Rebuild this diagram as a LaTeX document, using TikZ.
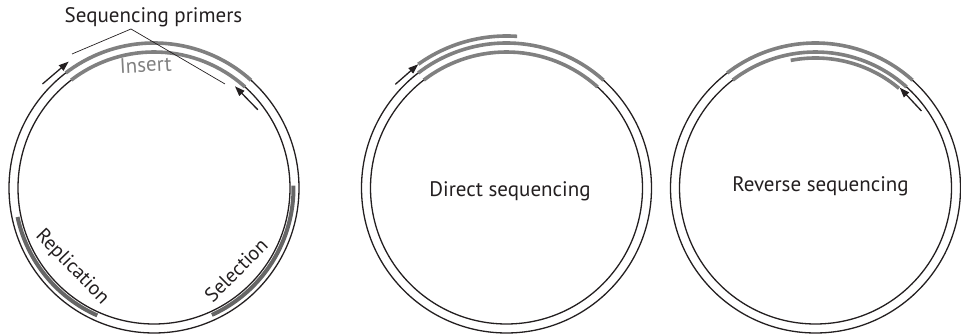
\documentclass[tikz,border=0pt]{standalone}
\usepackage{fontspec}
\setmainfont{PT Sans}
\usetikzlibrary{arrows.meta}
\definecolor{arcgray}{HTML}{808080}
\definecolor{bargray}{HTML}{666666}
\definecolor{inkblack}{HTML}{231F20}
\begin{document}
\begin{tikzpicture}[x=1pt,y=1pt,
  ring/.style={line width=1.3pt, inkblack},
  seqarc/.style={line width=3.6pt, arcgray},
  regbar/.style={line width=4pt, bargray},
  primer/.style={line width=1.3pt, inkblack, -{Triangle[length=10pt,width=7pt]}},
  leader/.style={line width=0.7pt, inkblack},
  lbl/.style={font=\fontsize{21}{24}\selectfont, inner sep=0pt, text=inkblack},
  rlbl/.style={font=\fontsize{20}{23}\selectfont, inner sep=0pt, text=inkblack},
]
\useasboundingbox (0,0) rectangle (961,336);
\coordinate (c1) at (154,148);
\coordinate (c2) at (506.5,148);
\coordinate (c3) at (815.5,148);
\foreach \c in {c1,c2,c3}{
  \draw[ring] (\c) circle[radius=145pt];
  \draw[ring] (\c) circle[radius=136pt];
  \begin{scope}[shift={(\c)}]
    \draw[seqarc] (48:145) arc[start angle=48,end angle=127.5,radius=145pt];
    \draw[seqarc] (48:136) arc[start angle=48,end angle=127.5,radius=136pt];
  \end{scope}
}
% plasmid with regions
\begin{scope}[shift={(c1)}]
  \draw[regbar] (192:139.5) arc[start angle=192,end angle=246,radius=139.5pt];
  \draw[regbar] (-65.5:139.5) arc[start angle=-65.5,end angle=1,radius=139.5pt];
  \coordinate (p1t) at (137:152.5);
  \coordinate (p1h) at (124:152.5);
  \draw[primer] (p1t) -- (p1h);
  \coordinate (p2t) at (37:130);
  \coordinate (p2h) at (51.5:130);
  \draw[primer] (p2t) -- (p2h);
  \node[rlbl, rotate=-46] (repl) at (224:114) {Replication};
  \node[rlbl, rotate=45] (sel) at (-45:116) {Selection};
\end{scope}
\node[lbl, anchor=base] (primers) at (153.5,313) {Sequencing primers};
\node[lbl, anchor=base, text=arcgray, rotate=3] (insert) at (146,264) {Insert};
\coordinate (apex) at (131,307);
\coordinate (lend) at (72,282);
\coordinate (rend) at (225,252);
\draw[leader] (lend) -- (apex) -- (rend);
% direct sequencing
\begin{scope}[shift={(c2)}]
  \coordinate (d1t) at (137:152);
  \coordinate (d1h) at (125.5:152);
  \draw[primer] (d1t) -- (d1h);
  \draw[seqarc] (125.5:152) arc[start angle=125.5,end angle=86,radius=152pt];
\end{scope}
\node[lbl, anchor=base] (direct) at (510,139) {Direct sequencing};
% reverse sequencing
\begin{scope}[shift={(c3)}]
  \coordinate (r1t) at (36:131);
  \coordinate (r1h) at (50:131);
  \draw[primer] (r1t) -- (r1h);
  \draw[seqarc] (50:130) arc[start angle=50,end angle=101,radius=130pt];
\end{scope}
\node[lbl, anchor=base] (reverse) at (820.5,144) {Reverse sequencing};
\end{tikzpicture}
\end{document}
